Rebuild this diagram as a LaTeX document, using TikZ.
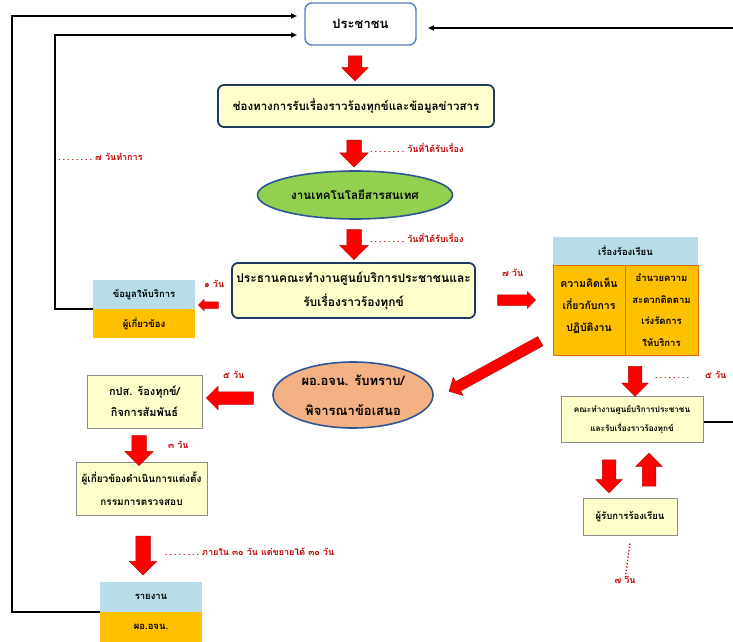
\documentclass[tikz,border=0pt]{standalone}
\usepackage{fontspec}
\setmainfont[Script=Thai]{Loma}
\usetikzlibrary{shapes.geometric,shapes.arrows,arrows.meta}
\definecolor{yfill}{HTML}{FFFFCC}
\definecolor{pborder}{HTML}{4F81BD}
\definecolor{navy}{HTML}{1F3A60}
\definecolor{gfill}{HTML}{92D050}
\definecolor{eborder}{HTML}{2F5597}
\definecolor{peach}{HTML}{F4B183}
\definecolor{lblue}{HTML}{B7DEE8}
\definecolor{ofill}{HTML}{FFC000}
\definecolor{oborder}{HTML}{E46C0A}
\definecolor{arrred}{HTML}{FF0000}
\definecolor{arredge}{HTML}{C00000}
\definecolor{labred}{HTML}{C00000}
\definecolor{gborder}{HTML}{8C8C8C}
\newcommand{\rdots}{\mbox{.\kern2pt.\kern2pt.\kern2pt.\kern2pt.\kern2pt.\kern2pt.\kern2pt.}}
\begin{document}
\begin{tikzpicture}[x=1pt,y=-1pt,
  txt/.style={font=\bfseries\fontsize{11}{20}\selectfont, align=center, inner sep=0pt},
  pbox/.style={txt, draw=pborder, line width=1.4pt, fill=white, rounded corners=7pt},
  ybox/.style={txt, draw=navy, line width=1.8pt, fill=yfill, rounded corners=6pt},
  gbox/.style={txt, draw=gborder, line width=1pt, fill=yfill},
  ell/.style={txt, ellipse, draw=eborder, line width=1.6pt},
  cell/.style={txt, font=\bfseries\fontsize{9.5}{20}\selectfont},
  redarr/.style n args={3}{single arrow, draw=arredge, line width=0.5pt, fill=arrred,
     inner sep=0pt, inner ysep=#3*0.5pt, minimum height=#1*1pt, minimum width=#2*1pt,
     single arrow head extend=(#2-#3)*0.5pt, single arrow tip angle=90},
  redlab/.style={text=labred, font=\bfseries\fontsize{9}{10}\selectfont, inner sep=0pt, anchor=west},
  conn/.style={line width=1.8pt, draw=black},
  tip/.style={-{Triangle[length=6pt,width=5pt]}}
]
\useasboundingbox (0,0) rectangle (733,642);

% main boxes
\node[pbox, minimum width=111pt, minimum height=42pt, font=\bfseries\fontsize{13}{20}\selectfont] (people) at (360.5,24) {ประชาชน};
\node[ybox, minimum width=276pt, minimum height=42pt, font=\bfseries\fontsize{11.5}{20}\selectfont] (chan) at (356,106) {ช่องทางการรับเรื่องราวร้องทุกข์และข้อมูลข่าวสาร};
\node[ell, fill=gfill, minimum width=195pt, minimum height=48pt, font=\bfseries\fontsize{11.6}{20}\selectfont] (it) at (355,195) {งานเทคโนโลยีสารสนเทศ};
\node[ybox, minimum width=243pt, minimum height=55pt, font=\bfseries\fontsize{12}{24}\selectfont] (pres) at (353.5,290.5) {ประธานคณะทำงานศูนย์บริการประชาชนและ\\รับเรื่องราวร้องทุกข์};

% info box
\node[cell, fill=lblue, minimum width=102pt, minimum height=29pt] (infoA) at (144,294.5) {ข้อมูลให้บริการ};
\node[cell, fill=ofill, minimum width=102pt, minimum height=29pt] (infoB) at (144,323.5) {ผู้เกี่ยวข้อง};

% complaint block
\node[cell, fill=lblue, minimum width=145pt, minimum height=28pt] (compA) at (625.5,251) {เรื่องร้องเรียน};
\node[cell, fill=ofill, draw=oborder, line width=1pt, minimum width=72pt, minimum height=90pt, font=\bfseries\fontsize{10.5}{22}\selectfont] (compL) at (589,310) {ความคิดเห็น\\เกี่ยวกับการ\\ปฏิบัติงาน\\[-12pt]};
\node[cell, fill=ofill, draw=oborder, line width=1pt, minimum width=73pt, minimum height=90pt, font=\bfseries\fontsize{9.5}{21.5}\selectfont] (compR) at (661.5,310) {อำนวยความ\\สะดวกติดตาม\\เร่งรัดการ\\ให้บริการ};

% director
\node[ell, fill=peach, minimum width=160pt, minimum height=66pt, font=\bfseries\fontsize{13}{30}\selectfont] (dir) at (353,395) {ผอ.อจน. รับทราบ/\\พิจารณาข้อเสนอ};
\node[gbox, minimum width=115pt, minimum height=53pt, font=\bfseries\fontsize{11}{21}\selectfont] (kps) at (144.5,401.5) {กปส. ร้องทุกข์/\\กิจการสัมพันธ์};
\node[gbox, minimum width=131pt, minimum height=53pt, font=\bfseries\fontsize{10}{23}\selectfont] (rel) at (141.5,488.5) {ผู้เกี่ยวข้องดำเนินการแต่งตั้ง\\กรรมการตรวจสอบ};
\node[cell, fill=lblue, minimum width=102pt, minimum height=30pt] (repA) at (151,597) {รายงาน};
\node[cell, fill=ofill, minimum width=102pt, minimum height=30pt] (repB) at (151,627) {ผอ.อจน.};

% right column
\node[gbox, minimum width=142pt, minimum height=46pt, font=\bfseries\fontsize{8.2}{19}\selectfont] (cmte) at (632,419) {คณะทำงานศูนย์บริการประชาชน\\และรับเรื่องราวร้องทุกข์};
\node[gbox, minimum width=94pt, minimum height=37pt, font=\bfseries\fontsize{9.5}{12}\selectfont] (recv) at (630,516.5) {ผู้รับการร้องเรียน};

% red block arrows
\node[redarr={25}{26}{13}, rotate=-90] (a1) at (355,65) {};
\node[redarr={27}{28}{14}, rotate=-90] (a2) at (354,150) {};
\node[redarr={30}{28}{14}, rotate=-90] (a3) at (354,241) {};
\node[redarr={20}{11}{6}, rotate=180] (a4) at (210,305) {};
\node[redarr={38}{16}{10}] (a5) at (514,300) {};
\node[redarr={104}{20}{10}, rotate=208.8] (a6) at (497,365) {};
\node[redarr={47}{23}{12}, rotate=180] (a7) at (233,398) {};
\node[redarr={30}{28}{14}, rotate=-90] (a8) at (139,447) {};
\node[redarr={39}{27}{14}, rotate=-90] (a9) at (143,552) {};
\node[redarr={30}{26}{13}, rotate=-90] (a10) at (635,378) {};
\node[redarr={33}{26}{13}, rotate=-90] (a11) at (609,473) {};
\node[redarr={33}{26}{13}, rotate=90] (a12) at (649,473) {};

% red labels
\node[redlab] (l1) at (58,157) {\rdots\ ๗ วันทำการ};
\node[redlab] (l2) at (370,148) {\rdots\ วันที่ได้รับเรื่อง};
\node[redlab] (l3) at (370,238) {\rdots\ วันที่ได้รับเรื่อง};
\node[redlab] (l4) at (204,284) {๑ วัน};
\node[redlab] (l5) at (502,273) {๗ วัน};
\node[redlab] (l6) at (223,375) {๕ วัน};
\node[redlab] (l7) at (168,445) {๓ วัน};
\node[redlab] (l8) at (165,552) {\rdots\ ภายใน ๓๐ วัน แต่ขยายได้ ๓๐ วัน};
\node[redlab] (l9) at (655,375) {\rdots\hspace{16pt}๕ วัน};
\node[redlab, anchor=center] (l10) at (625,580) {๗ วัน};
\draw[labred, line width=1.3pt, dotted] ([yshift=-8pt]recv.south) -- ([yshift=-3pt]l10.north);

% black connectors
\coordinate (in1) at (297,16);
\coordinate (in2) at (297,35);
\coordinate (in3) at (428,28);
\coordinate (edgeTop) at (733,28);
\coordinate (edgeRight) at (733,422);
\draw[conn, tip] (repA.south west) -| (12,16) -- (in1);
\draw[conn, tip] (infoA.south west) -| (55,35) -- (in2);
\draw[conn, tip] (edgeTop) -- (in3);
\draw[conn] (cmte.east |- edgeRight) -- (edgeRight);
\end{tikzpicture}
\end{document}
